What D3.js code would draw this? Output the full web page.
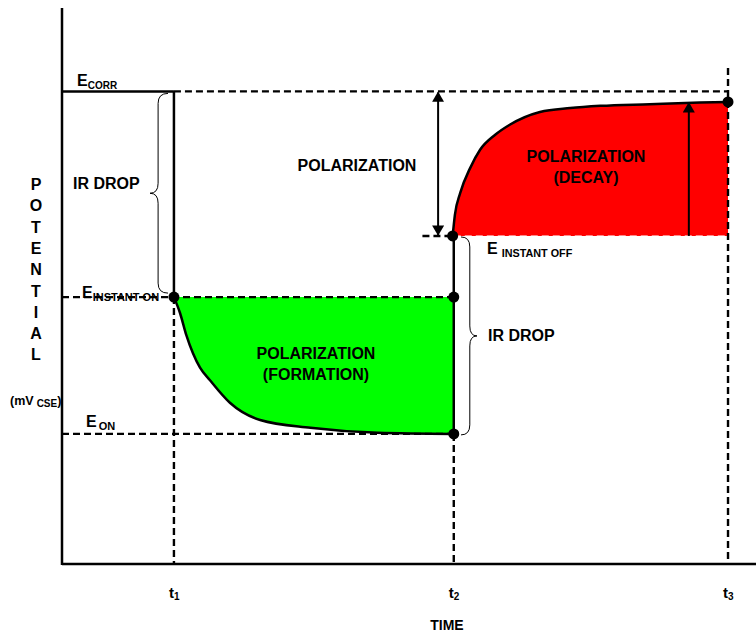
<html>
<script src="https://cdn.jsdelivr.net/npm/d3@7"></script>
<body style="margin:0;background:#fff">
<script>
// time marks and potential levels
var tickNames = ['1', '2', '3'];
var tickTimes = [1, 3.5, 5.95];
var levelNames = ['CORR', 'INSTANT ON', 'ON', 'INSTANT OFF'];
var levelValues = [85, 48, 23.4, 59];
// polarization formation curve (t1 -> t2)
var formT = [1, 1.055, 1.11, 1.17, 1.233, 1.32, 1.5, 1.77, 2.22, 2.82, 3.5];
var formV = [48, 45.1, 41.2, 37.9, 35.3, 33.1, 29.0, 25.9, 24.5, 23.6, 23.4];
// polarization decay curve (t2 -> t3)
var decayT = [3.49, 3.51, 3.557, 3.646, 3.735, 3.87, 4.0, 4.27, 4.54, 4.81, 5.25, 5.7, 5.95];
var decayV = [59, 62.8, 66.7, 71.2, 74.5, 77.2, 79.0, 81.3, 82.0, 82.4, 82.7, 83.0, 83.1];

var width = 756, height = 635;
var font = '"Liberation Sans", Arial, sans-serif';
var svg = d3.select('body').append('svg').attr('width', width).attr('height', height)
    .style('font-family', font).style('font-weight', 'bold');

var x = d3.scaleLinear().domain([0, 6.2]).range([62, 756]);
var y = d3.scaleLinear().domain([0, 100]).range([564, 8]);

var eCorr = levelValues[0], eOn = levelValues[1], eOnly = levelValues[2], eOff = levelValues[3];
var t1 = tickTimes[0], t2 = tickTimes[1], t3 = tickTimes[2];

var form = formT.map(function(t, i){ return [t, formV[i]]; });
var decay = decayT.map(function(t, i){ return [t, decayV[i]]; });

// filled areas
svg.append('path').datum(form)
    .attr('d', d3.area().x(function(d){return x(d[0])}).y0(y(eOn)).y1(function(d){return y(d[1])}).curve(d3.curveMonotoneX))
    .attr('fill', '#00ff00');
svg.append('path').datum(decay)
    .attr('d', d3.area().x(function(d){return x(d[0])}).y0(y(eOff)).y1(function(d){return y(d[1])}).curve(d3.curveMonotoneX))
    .attr('fill', '#ff0000');

function line(x1, y1, x2, y2, dashed, sw){
    return svg.append('line').attr('x1', x1).attr('y1', y1).attr('x2', x2).attr('y2', y2)
        .attr('stroke', 'black').attr('stroke-width', sw || 2.4)
        .attr('stroke-dasharray', dashed ? '7,4' : null);
}

// dashed guides
line(x(t1), y(eCorr), x(t3), y(eCorr), true);
line(x(0), y(eOn), x(t2), y(eOn), true);
line(x(0), y(eOnly), x(t2), y(eOnly), true);
line(x(3.22), y(eOff), x(t2), y(eOff), true);
line(x(t2), y(eOff), x(t3), y(eOff), true, 1).attr('stroke', 'white');
line(x(t1), y(eOn), x(t1), y(0), true);
line(x(t2), y(eOnly), x(t2), y(0), true);
line(x(t3), 68, x(t3), y(0), true);

// solid lines
line(x(0), y(eCorr), x(t1), y(eCorr), false, 2.5);
line(x(t1), y(eCorr), x(t1), y(eOn), false, 2.5);
line(x(t2), y(eOff), x(t2), y(eOnly), false, 2.5);

// curves
var curve = d3.line().x(function(d){return x(d[0])}).y(function(d){return y(d[1])}).curve(d3.curveMonotoneX);
svg.append('path').datum(form).attr('d', curve).attr('fill', 'none').attr('stroke', 'black').attr('stroke-width', 2.5);
svg.append('path').datum(decay).attr('d', curve).attr('fill', 'none').attr('stroke', 'black').attr('stroke-width', 2.5);

// axes
line(x(0), 8, x(0), y(0) + 1, false, 2.5);
line(x(0), y(0), width, y(0), false, 2.5);

// dots
var dots = [[t1, eOn], [t2, eOn], [t2, eOnly], [decayT[0], eOff], [t3, decayV[decayV.length - 1]]];
svg.selectAll('circle.dot').data(dots).enter().append('circle').attr('class', 'dot')
    .attr('cx', function(d){return x(d[0])}).attr('cy', function(d){return y(d[1])})
    .attr('r', 5.5).attr('fill', 'black');

// arrows
var defs = svg.append('defs');
defs.append('marker').attr('id', 'head').attr('viewBox', '0 0 12 14')
    .attr('refX', 11).attr('refY', 7).attr('markerWidth', 14).attr('markerHeight', 12)
    .attr('markerUnits', 'userSpaceOnUse').attr('orient', 'auto-start-reverse')
    .append('path').attr('d', 'M0,0 L12,7 L0,14 Z').attr('fill', 'black');
line(x(3.36), y(eCorr) + 1, x(3.36), y(eOff) - 1, false, 2)
    .attr('marker-start', 'url(#head)').attr('marker-end', 'url(#head)');
line(x(5.6), y(eOff), x(5.6), y(decayV[decayV.length - 1]) + 1, false, 2)
    .attr('marker-end', 'url(#head)');

// curly braces
function brace(xe, y1, y2, w, dir){
    var xm = xe + dir * w * 0.55, xt = xe + dir * w, ym = (y1 + y2) / 2, q = 10;
    return 'M' + xe + ',' + y1 +
        ' Q' + xm + ',' + y1 + ' ' + xm + ',' + (y1 + q) +
        ' L' + xm + ',' + (ym - q) +
        ' Q' + xm + ',' + ym + ' ' + xt + ',' + ym +
        ' Q' + xm + ',' + ym + ' ' + xm + ',' + (ym + q) +
        ' L' + xm + ',' + (y2 - q) +
        ' Q' + xm + ',' + y2 + ' ' + xe + ',' + y2;
}
svg.append('path').attr('d', brace(168, y(eCorr) + 2, y(eOn) - 4, 18, -1))
    .attr('fill', 'none').attr('stroke', 'black').attr('stroke-width', 1);
svg.append('path').attr('d', brace(461, y(eOff) + 1, y(eOnly) + 1, 16, 1))
    .attr('fill', 'none').attr('stroke', 'black').attr('stroke-width', 1);

// text helpers
function label(tx, ty, s, size, anchor){
    return svg.append('text').attr('x', tx).attr('y', ty).attr('font-size', size)
        .attr('text-anchor', anchor || 'start').text(s);
}
function eLabel(tx, ty, sub, gap, subSize){
    var t = svg.append('text').attr('x', tx).attr('y', ty).attr('font-size', 16);
    t.append('tspan').text('E');
    t.append('tspan').attr('font-size', subSize || 10).attr('dx', gap || 0).attr('dy', 3).text(sub);
}
eLabel(77, y(eCorr) - 5, levelNames[0]);
eLabel(82, y(eOn) + 1, levelNames[1], 0, 11);
eLabel(86, y(eOnly) - 7, levelNames[2], 2, 11);
eLabel(487, y(eOff) + 18, levelNames[3], 4, 10.8);

label(73, 189, 'IR DROP', 16);
label(488, 341, 'IR DROP', 16);
label(357, 171, 'POLARIZATION', 16, 'middle');
label(586, 162, 'POLARIZATION', 16, 'middle');
label(586, 183, '(DECAY)', 16, 'middle');
label(316, 359, 'POLARIZATION', 16, 'middle');
label(316, 380, '(FORMATION)', 16, 'middle');

// y axis title
'POTENTIAL'.split('').forEach(function(c, i){
    label(36, 190 + i * 21.3, c, 16, 'middle');
});
var mv = svg.append('text').attr('x', 10).attr('y', 405).attr('font-size', 12.5);
mv.append('tspan').text('(mV');
mv.append('tspan').attr('font-size', 10).attr('dx', 3).attr('dy', 2).text('CSE');
mv.append('tspan').attr('dy', -2).text(')');

// time ticks
tickTimes.forEach(function(t, i){
    var lt = svg.append('text').attr('x', x(t) - 5).attr('y', 598).attr('font-size', 15);
    lt.append('tspan').text('t');
    lt.append('tspan').attr('font-size', 10).attr('dy', 2).text(tickNames[i]);
});
label(447, 630, 'TIME', 14, 'middle');
</script>
</body>
</html>
